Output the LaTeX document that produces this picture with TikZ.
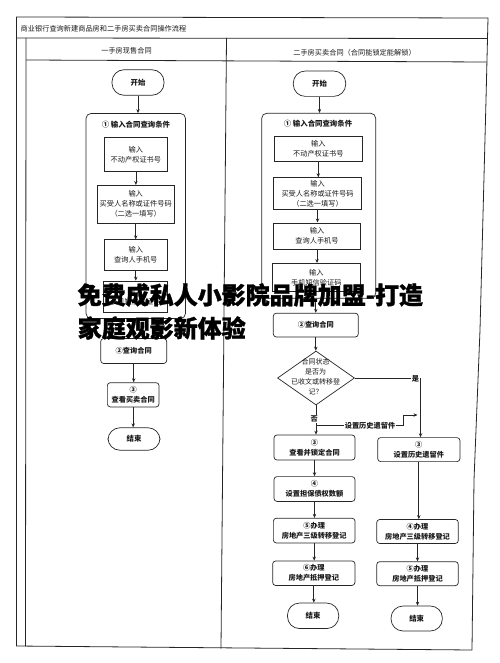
\documentclass[tikz,border=0pt]{standalone}
\usepackage{fontspec}
\newfontfamily\cjk{Noto Sans CJK SC}
\newfontfamily\cjkheavy[FakeBold=1.2]{Noto Sans CJK SC}
\usetikzlibrary{arrows.meta,shapes.geometric}
\tikzset{
  frameline/.style={draw=black!85, line width=0.8pt},
  ln/.style={draw=black!85, line width=0.7pt},
  arr/.style={ln, -{Stealth[length=4pt,width=3.4pt]}},
  txt/.style={inner sep=0pt, align=center, text=black!90},
  sbox/.style={ln, txt, font=\cjk\fontsize{7.2}{10}\selectfont},
  rbox/.style={ln, txt, rounded corners=3pt, font=\cjk\bfseries\fontsize{7.2}{10}\selectfont},
  grp/.style={ln, rounded corners=5pt, inner sep=0pt},
  term/.style={ln, txt, rounded corners=12pt, font=\cjk\bfseries\fontsize{7.4}{10}\selectfont},
  lbl/.style={txt, fill=white, inner sep=0.6pt, font=\cjk\bfseries\fontsize{7.2}{9}\selectfont},
  hdr/.style={txt, font=\cjk\fontsize{7.2}{9}\selectfont},
  gtitle/.style={txt, font=\cjk\bfseries\fontsize{7.4}{9}\selectfont},
  adtext/.style={anchor=west, inner sep=0pt, text=black, font=\cjkheavy\bfseries\fontsize{24}{24}\selectfont}
}
\begin{document}
\begin{tikzpicture}[x=1pt,y=-1pt]
\useasboundingbox (0,0) rectangle (499,663);
% frame
\draw[frameline] (16.5,17) -- (488,18) -- (486,100) -- (480,330) -- (474,480) -- (472,650) -- (16.5,646) -- cycle;
\draw[frameline] (16.5,38) -- (487.3,38.5);
\draw[frameline] (26,38) -- (25.5,646.3);
\draw[frameline] (26,60) -- (486.8,62);
\draw[frameline] (226.5,38) -- (221,648.5);
\node[hdr, anchor=west] (title) at (20.5,28.5) {商业银行查询新建商品房和二手房买卖合同操作流程};
\node[hdr] (hl) at (126.5,50.3) {一手房现售合同};
\node[hdr] (hr) at (354.5,52.3) {二手房买卖合同（合同能锁定能解锁）};

% ---------------- left column
\node[term, minimum width=52, minimum height=25.5] (L0) at (138,82.5) {开始};
\node[grp, minimum width=99.5, minimum height=205] (LG) at (135.75,216) {};
\node[gtitle] (LGt) at (136,125) {① 输入合同查询条件};
\node[sbox, minimum width=63.7, minimum height=33.7] (L1) at (135.9,154.4) {输入\\不动产权证书号};
\node[sbox, minimum width=76.7, minimum height=38] (L2) at (135.7,204.3) {输入\\买受人名称或证件号码\\（二选一填写）};
\node[sbox, minimum width=63, minimum height=31] (L3) at (135.8,255.2) {输入\\查询人手机号};
\node[sbox, minimum width=64, minimum height=31] (L4) at (135.3,296.5) {输入\\手机短信验证码};
\node[rbox, minimum width=66, minimum height=25] (Lq) at (133.7,351) {②查询合同};
\node[rbox, minimum width=51.7, minimum height=24.3] (Lv) at (133.2,394.8) {③\\查看买卖合同};
\node[term, minimum width=52, minimum height=22.5] (Le) at (134,439) {结束};

\draw[arr] (L0.south) -- (L0.south |- LG.north);
\draw[arr] (L1.south) -- (L1.south |- L2.north);
\draw[arr] (L2.south) -- (L2.south |- L3.north);
\draw[arr] (L3.south) -- (L3.south |- L4.north);
\draw[arr] (Lq.north |- LG.south) -- (Lq.north);
\draw[arr] (Lq.south) -- (Lq.south |- Lv.north);
\draw[arr] (Lv.south) -- (Lv.south |- Le.north);

% ---------------- right column
\node[term, minimum width=52.4, minimum height=25.4] (R0) at (319.5,83.7) {开始};
\node[grp, minimum width=114, minimum height=185] (RG) at (318.7,205.8) {};
\node[gtitle] (RGt) at (318,124) {① 输入合同查询条件};
\node[sbox, minimum width=88, minimum height=25] (R1) at (318.3,149) {输入\\不动产权证书号};
\node[sbox, minimum width=88.4, minimum height=31.7] (R2) at (317.5,193.5) {输入\\买受人名称或证件号码\\（二选一填写）};
\node[sbox, minimum width=87.4, minimum height=26.7] (R3) at (317,236.2) {输入\\查询人手机号};
\node[sbox, minimum width=87.3, minimum height=28.3] (R4) at (316.3,277.5) {输入\\手机短信验证码};
\node[rbox, minimum width=85, minimum height=23.8] (Rq) at (315.8,325.1) {②查询合同};
\node[diamond, ln, minimum width=77, minimum height=54, inner sep=0pt] (D) at (316,378) {};
\node[txt, font=\cjk\fontsize{7}{10}\selectfont] (Dt) at (315.5,376.5) {合同状态\\是否为\\已收文或转移登\\记？};
\node[rbox, minimum width=81, minimum height=25] (A3) at (314.5,447.5) {③\\查看并锁定合同};
\node[rbox, minimum width=81, minimum height=24.8] (A4) at (314.5,489) {④\\设置担保债权数额};
\node[rbox, minimum width=81.7, minimum height=24.7] (A5) at (314.2,530.6) {⑤办理\\房地产三级转移登记};
\node[rbox, minimum width=82.3, minimum height=24.5] (A6) at (313.8,573.2) {⑥办理\\房地产抵押登记};
\node[term, minimum width=51.2, minimum height=25.5] (Ae) at (313.1,615.8) {结束};
\node[rbox, minimum width=82.3, minimum height=24] (B3) at (418.8,449.6) {③\\设置历史遗留件};
\node[rbox, minimum width=81.6, minimum height=24] (B4) at (417.5,531.5) {④办理\\房地产三级转移登记};
\node[rbox, minimum width=81.6, minimum height=24] (B5) at (417.5,573.7) {⑤办理\\房地产抵押登记};
\node[term, minimum width=51.3, minimum height=25] (Be) at (416.7,618.5) {结束};

\draw[arr] (R0.south) -- (R0.south |- RG.north);
\draw[arr] (R1.south) -- (R1.south |- R2.north);
\draw[arr] (R2.south) -- (R2.south |- R3.north);
\draw[arr] (R3.south) -- (R3.south |- R4.north);
\draw[arr] (Rq.north |- RG.south) -- (Rq.north);
\draw[arr] (Rq.south) -- (Rq.south |- D.north);
% yes branch
\coordinate (yc) at (420.5,378);
\draw[arr] (D.east) -- (yc) -- (yc |- B3.north);
\node[lbl] (yes) at (415.5,378.5) {是};
% no branch
\draw[arr] (D.south) -- (D.south |- A3.north);
\node[lbl] (no) at (314.3,418.8) {否};
% history branch
\coordinate (bs) at (316,425);
\coordinate (bk) at (403,425);
\coordinate (bu) at (403,415);
\coordinate (be) at (417.5,415);
\draw[arr] (bs) -- (bk) -- (bu) -- (be);
\node[lbl] (hist) at (370,425.5) {设置历史遗留件};

\draw[arr] (A3.south) -- (A3.south |- A4.north);
\draw[arr] (A4.south) -- (A4.south |- A5.north);
\draw[arr] (A5.south) -- (A5.south |- A6.north);
\draw[arr] (A6.south) -- (A6.south |- Ae.north);
\draw[arr] (B3.south) -- (B3.south |- B4.north);
\draw[arr] (B4.south) -- (B4.south |- B5.north);
\draw[arr] (B5.south) -- (B5.south |- Be.north);

% overlay text
\node[adtext] (ad1) at (77.5,295) {免费成私人小影院品牌加盟-打造};
\node[adtext] (ad2) at (77.5,328) {家庭观影新体验};
\end{tikzpicture}
\end{document}
